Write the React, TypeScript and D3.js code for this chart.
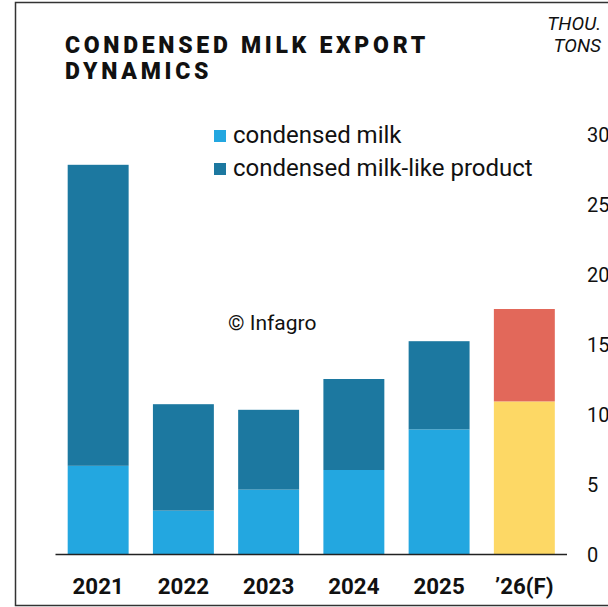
import React from "react";
import * as d3 from "d3";

const categories = ["2021", "2022", "2023", "2024", "2025", "’26(F)"];
const condensedMilk = [6.3, 3.1, 4.6, 6.0, 8.9, 10.9];
const milkLike = [21.5, 7.6, 5.7, 6.5, 6.3, 6.6];
const yTicks = [0, 5, 10, 15, 20, 25, 30];
const legendLabels = ["condensed milk", "condensed milk-like product"];

const W = 608;
const H = 607;
const FONT = "Roboto, 'Noto Sans', sans-serif";

export default function App() {
  const x = d3.scaleBand<string>().domain(categories).range([55.5, 567]).paddingInner(0.285).paddingOuter(0.143);
  const y = d3.scaleLinear().domain([0, 30]).range([554, 134]);
  const isF = (i: number) => i === categories.length - 1;
  const lowColor = (i: number) => (isF(i) ? "#fdd865" : "#23a7e0");
  const highColor = (i: number) => (isF(i) ? "#e2685a" : "#1c78a0");

  return (
    <svg width={W} height={H} style={{ position: "absolute", left: 0, top: 0, display: "block" }} fontFamily={FONT}>
      <rect x={0} y={0} width={W} height={H} fill="#fff" />
      <path d={`M${W + 5},2.5 H15.5 V605.5 H${W + 5}`} fill="none" stroke="#333" strokeWidth={1.5} />
      <text x={65} y={53} fontSize={23} fontWeight={900} letterSpacing={3.7} fill="#111">CONDENSED MILK EXPORT</text>
      <text x={65} y={79} fontSize={23} fontWeight={900} letterSpacing={3.7} fill="#111">DYNAMICS</text>
      <text x={601} y={30} fontSize={19} fontStyle="italic" textAnchor="end" fill="#111">THOU.</text>
      <text x={601} y={52} fontSize={19} fontStyle="italic" textAnchor="end" fill="#111">TONS</text>

      {categories.map((c, i) => {
        const x0 = x(c)!;
        const bw = x.bandwidth();
        const a = condensedMilk[i];
        const b = milkLike[i];
        return (
          <g key={c}>
            <rect x={x0} y={y(a)} width={bw} height={y(0) - y(a)} fill={lowColor(i)} />
            <rect x={x0} y={y(a + b)} width={bw} height={y(a) - y(a + b)} fill={highColor(i)} />
            <text x={x0 + bw / 2} y={594} fontSize={22.3} fontWeight={700} textAnchor="middle" fill="#111">{c}</text>
          </g>
        );
      })}
      <line x1={55.5} x2={567} y1={y(0) + 0.5} y2={y(0) + 0.5} stroke="#222" strokeWidth={1.5} />
      {yTicks.map((t) => (
        <text key={t} x={587} y={y(t) + 7.5} fontSize={20} fill="#111">{t}</text>
      ))}

      {legendLabels.map((l, i) => (
        <g key={l}>
          <rect x={214} y={130 + i * 33} width={12} height={12} fill={i === 0 ? "#23a7e0" : "#1c78a0"} />
          <text x={233} y={143 + i * 33} fontSize={24} fill="#111">{l}</text>
        </g>
      ))}
      <text x={228} y={330} fontSize={21} fill="#111">© Infagro</text>
    </svg>
  );
}
